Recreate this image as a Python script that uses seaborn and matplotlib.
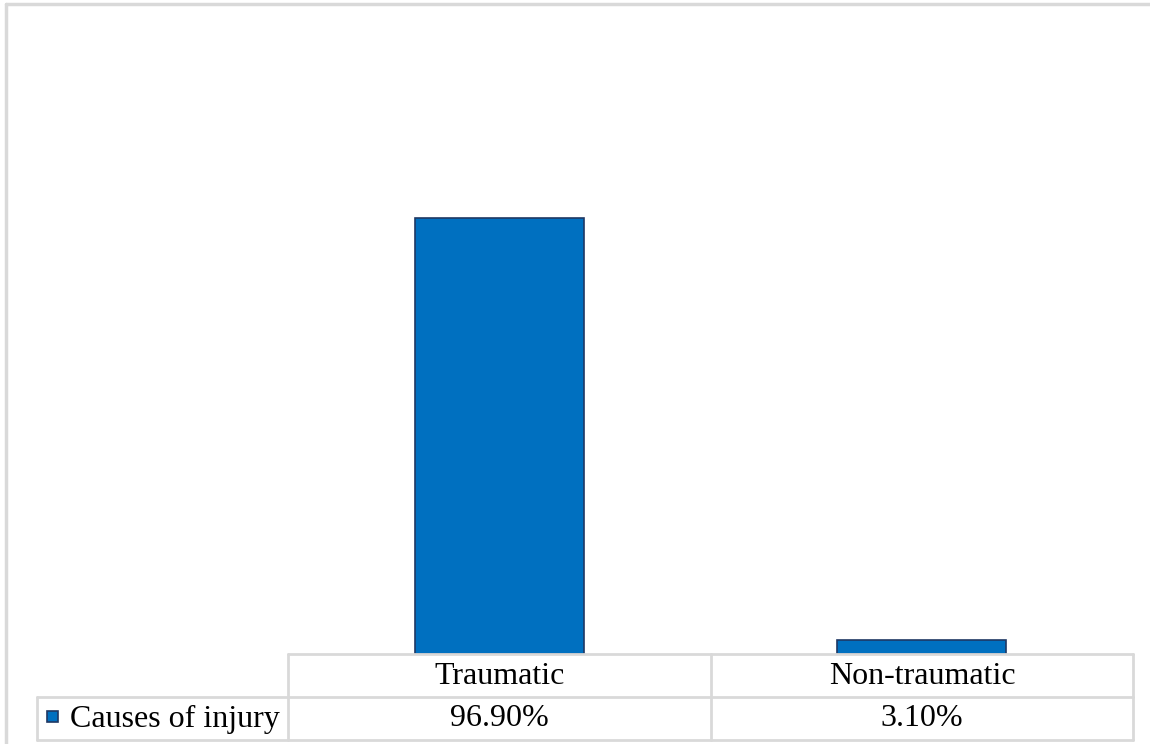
import matplotlib
matplotlib.use("Agg")
import matplotlib.pyplot as plt
from matplotlib.lines import Line2D
from matplotlib.patches import Rectangle
import seaborn as sns
import pandas as pd

categories = ["Traumatic", "Non-traumatic"]
values = [0.969, 0.031]
value_labels = ["96.90%", "3.10%"]
series_name = "Causes of injury"

sns.set_theme(style="white")
plt.rcParams["font.family"] = ["Liberation Serif", "DejaVu Serif"]

W, H = 1150, 744
fig = plt.figure(figsize=(W / 100, H / 100), dpi=100)


def fx(px):
    return px / W


def fy(py):
    return 1 - py / H


BAR = "#0070C0"
EDGE = "#1F3864"
GRID = "#D9D9D9"

ax = fig.add_axes([fx(288), fy(654), fx(1133) - fx(288), fy(114) - fy(654)])
df = pd.DataFrame({"cause": categories, "share": values})
sns.barplot(data=df, x="cause", y="share", color=BAR, width=0.4,
            edgecolor=EDGE, linewidth=1.2, saturation=1, ax=ax)
ax.set_ylim(0, 1.2)
ax.set_xlim(-0.5, len(categories) - 0.5)
ax.set_axis_off()

# chart frame (top and left edges)
fig.add_artist(Line2D([fx(6), fx(W)], [fy(4), fy(4)], color=GRID, lw=2.5))
fig.add_artist(Line2D([fx(6), fx(6)], [fy(4), fy(H)], color=GRID, lw=2.5))

# data table grid
col_edges = [288, 711, 1133]
rows = [654, 697, 740]
lw = 2
fig.add_artist(Line2D([fx(288), fx(1133)], [fy(654), fy(654)], color=GRID, lw=lw))
for y in rows[1:]:
    fig.add_artist(Line2D([fx(37), fx(1133)], [fy(y), fy(y)], color=GRID, lw=lw))
for x in col_edges:
    fig.add_artist(Line2D([fx(x), fx(x)], [fy(654), fy(740)], color=GRID, lw=lw))
fig.add_artist(Line2D([fx(37), fx(37)], [fy(697), fy(740)], color=GRID, lw=lw))

fs = 23
for i, (cat, lab) in enumerate(zip(categories, value_labels)):
    cx = (col_edges[i] + col_edges[i + 1]) / 2
    fig.text(fx(cx), fy(676), cat, ha="center", va="center", fontsize=fs, color="black")
    fig.text(fx(cx), fy(719), lab, ha="center", va="center", fontsize=fs, color="black")

# legend key and series name
fig.add_artist(Rectangle((fx(47), fy(722)), fx(11), fy(711) - fy(722),
                         facecolor=BAR, edgecolor=EDGE, lw=1.2))
fig.text(fx(70), fy(719), series_name, ha="left", va="center", fontsize=fs, color="black")

fig.savefig("out.png", dpi=100, facecolor="white")
